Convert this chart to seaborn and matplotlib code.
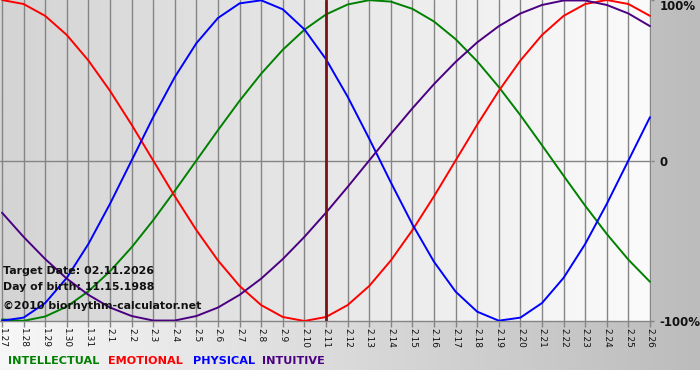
import numpy as np
import pandas as pd
import matplotlib
matplotlib.use("Agg")
import matplotlib.pyplot as plt
import seaborn as sns
from matplotlib.colors import LinearSegmentedColormap

# ---------------- data ----------------
dates = ["1.27", "1.28", "1.29", "1.30", "1.31",
         "2.1", "2.2", "2.3", "2.4", "2.5", "2.6", "2.7", "2.8", "2.9", "2.10",
         "2.11", "2.12", "2.13", "2.14", "2.15", "2.16", "2.17", "2.18", "2.19",
         "2.20", "2.21", "2.22", "2.23", "2.24", "2.25", "2.26"]

intellectual = [-0.990, -0.999, -0.972, -0.910, -0.815, -0.690, -0.541, -0.372,
                -0.189, 0.000, 0.189, 0.372, 0.541, 0.690, 0.815, 0.910, 0.972,
                0.999, 0.990, 0.945, 0.866, 0.756, 0.618, 0.458, 0.282, 0.095,
                -0.095, -0.282, -0.458, -0.618, -0.756]

emotional = [1.000, 0.975, 0.901, 0.782, 0.623, 0.434, 0.223, 0.000, -0.223,
             -0.434, -0.623, -0.782, -0.901, -0.975, -1.000, -0.975, -0.901,
             -0.782, -0.623, -0.434, -0.223, 0.000, 0.223, 0.434, 0.623, 0.782,
             0.901, 0.975, 1.000, 0.975, 0.901]

physical = [-0.998, -0.979, -0.888, -0.731, -0.520, -0.270, 0.000, 0.270, 0.520,
            0.731, 0.888, 0.979, 0.998, 0.942, 0.817, 0.631, 0.398, 0.136,
            -0.136, -0.398, -0.631, -0.817, -0.942, -0.998, -0.979, -0.888,
            -0.731, -0.520, -0.270, 0.000, 0.270]

intuitive = [-0.325, -0.476, -0.614, -0.736, -0.837, -0.916, -0.969, -0.997,
             -0.997, -0.969, -0.916, -0.837, -0.736, -0.614, -0.476, -0.325,
             -0.165, 0.000, 0.165, 0.325, 0.476, 0.614, 0.736, 0.837, 0.916,
             0.969, 0.997, 0.997, 0.969, 0.916, 0.837]

series_names = ["INTELLECTUAL", "EMOTIONAL", "PHYSICAL", "INTUITIVE"]
series_colors = ["#008000", "#ff0000", "#0000ff", "#4b0082"]
y_ticks = [-1.0, 0.0, 1.0]
y_labels = ["-100%", "0", "100%"]
target_day = "2.11"
info_lines = ["Target Date: 02.11.2026", "Day of birth: 11.15.1988",
              "\u00a92010 biorhythm-calculator.net"]

# ---------------- build long table ----------------
frames = []
for name, vals in zip(series_names,
                      [intellectual, emotional, physical, intuitive]):
    frames.append(pd.DataFrame({"day": np.arange(len(dates)),
                                "value": vals, "cycle": name}))
df = pd.concat(frames, ignore_index=True)

sns.set_theme(style="white")
plt.rcParams['font.family'] = ['DejaVu Sans']

W, H = 700, 380
fig = plt.figure(figsize=(7, 3.8), dpi=100)
fig.patch.set_facecolor("white")

# background gradient (whole image)
bg = fig.add_axes([0, 0, 1, 1], zorder=0)
bg.set_xlim(0, W)
bg.set_ylim(H, 0)
bg.set_axis_off()
grad = np.linspace(0, 1, 256).reshape(1, -1)
bg_cmap = LinearSegmentedColormap.from_list("bg", ["#f7f7f7", "#bcbcbc"])
bg.imshow(grad, extent=[0, W, 370, 0], aspect="auto", cmap=bg_cmap)

# plot area
px_l, px_r, px_t, px_b = 0, 651, 0, 321
ax = fig.add_axes([px_l / W, 1 - px_b / H, (px_r - px_l) / W, (px_b - px_t) / H],
                  zorder=1)
n = len(dates)
step_px = (650 - 2) / (n - 1)
xmin = -2 / step_px
xmax = (n - 1) + 1 / step_px
ax.set_xlim(xmin, xmax)
ax.set_ylim(-1.0, 1.0)

plot_cmap = LinearSegmentedColormap.from_list("pl", ["#d4d4d4", "#fbfbfb"])
ax.imshow(grad, extent=[xmin, xmax, -1.0, 1.0], aspect="auto", cmap=plot_cmap,
          zorder=0)

for i in range(n):
    ax.axvline(i, color="#858585", lw=1.0, zorder=1)
ax.axhline(0, color="#858585", lw=1.0, zorder=1)

sns.lineplot(data=df, x="day", y="value", hue="cycle", hue_order=series_names,
             palette=series_colors, lw=1.4, ax=ax, legend=False, zorder=3)

ax.axvline(dates.index(target_day), color="#7a1414", lw=2.0, zorder=4)

ax.set_xticks(range(n))
ax.set_xticklabels(dates, rotation=270, fontsize=6.5, color="#111111")
ax.set_yticks(y_ticks)
ax.set_yticklabels(y_labels, fontsize=8.5, fontweight="bold", color="#111111")
ax.yaxis.tick_right()
ax.tick_params(axis="x", direction="out", length=4, width=1, color="#858585",
               pad=1, bottom=True)
ax.tick_params(axis="y", direction="out", length=2, width=1, color="#858585",
               pad=4, right=True, left=False)
ax.set_xlabel("")
ax.set_ylabel("")
for s in ["top", "left", "right"]:
    ax.spines[s].set_visible(False)
ax.spines["bottom"].set_color("#858585")
ax.spines["bottom"].set_linewidth(1.0)
for lbl in ax.get_yticklabels():
    if lbl.get_text() == "100%":
        lbl.set_va("top")

# info text overlay
for txt, ypx in zip(info_lines, [271, 287, 306]):
    fig.text(3 / W, 1 - ypx / H, txt, fontsize=7.9, fontweight="bold",
             color="#111111", va="center", ha="left", zorder=5)

# colored legend text
leg_x = [8, 108, 193, 262]
for name, col, xp in zip(series_names, series_colors, leg_x):
    fig.text(xp / W, 1 - 361 / H, name, fontsize=8.1, fontweight="bold",
             color=col, va="center", ha="left", zorder=5)

fig.savefig("out.png", dpi=100)
